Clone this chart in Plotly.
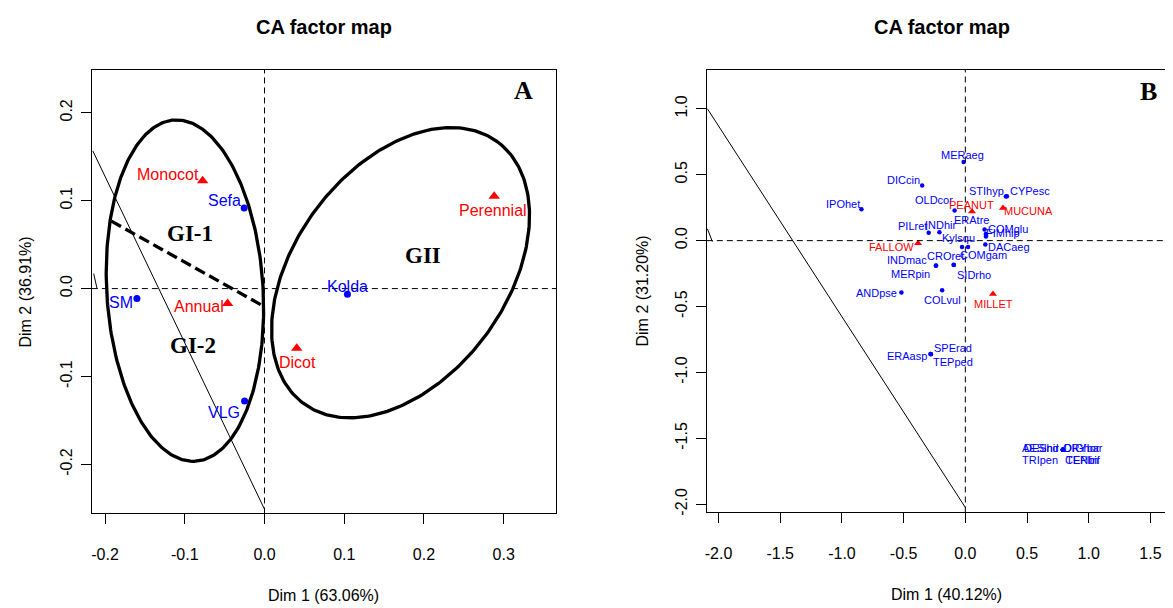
import numpy as np
import plotly.graph_objects as go

# The page body has an 8px default margin; the figure is sized/placed to compensate.
OFF = 8
W, H = 1173 - OFF, 608 - OFF

# ---------------- Panel A data ----------------
a_site_names = ["Sefa", "SM", "Kolda", "VLG"]
a_site_x = [-0.0255, -0.160, 0.104, -0.025]
a_site_y = [0.0917, -0.0113, -0.0064, -0.128]

a_type_names = ["Monocot", "Annual", "Dicot", "Perennial"]
a_type_x = [-0.0776, -0.0463, 0.0404, 0.288]
a_type_y = [0.1227, -0.017, -0.068, 0.105]

a_xticks = [-0.2, -0.1, 0.0, 0.1, 0.2, 0.3]
a_xticklabels = ["-0.2", "-0.1", "0.0", "0.1", "0.2", "0.3"]
a_yticks = [-0.2, -0.1, 0.0, 0.1, 0.2]
a_yticklabels = ["-0.2", "-0.1", "0.0", "0.1", "0.2"]

# ---------------- Panel B data ----------------
b_sp_names = ["MERaeg", "DICcin", "IPOhet", "OLDcor", "STIhyp", "CYPesc", "ERAtre",
              "COMglu", "FIMhip", "PILret", "INDhir", "Kylsqu", "COMgam", "DACaeg",
              "CROret", "SIDrho", "INDmac", "MERpin", "ANDpse", "COLvul", "ERAasp",
              "SPErad", "TEPped", "AESind", "DEShir", "ORYbar", "DIGhor", "TRIpen",
              "CENbif", "TEPlin"]
b_sp_x = [-0.014, -0.350, -0.842, -0.087, 0.328, 0.337, 0.156,
          0.166, 0.167, -0.297, -0.210, -0.027, 0.022, 0.162,
          -0.095, -0.093, -0.237, -0.239, -0.518, -0.188, -0.283,
          -0.279, -0.279, 0.790, 0.790, 0.791, 0.791, 0.790,
          0.791, 0.790]
b_sp_y = [0.597, 0.419, 0.238, 0.229, 0.334, 0.336, 0.085,
          0.051, 0.032, 0.059, 0.064, -0.049, -0.049, -0.029,
          -0.183, -0.185, -0.188, -0.190, -0.394, -0.377, -0.860,
          -0.860, -0.862, -1.586, -1.586, -1.586, -1.586, -1.587,
          -1.587, -1.586]

b_trt_names = ["FALLOW", "PEANUT", "MUCUNA", "MILLET"]
b_trt_x = [-0.383, 0.054, 0.305, 0.224]
b_trt_y = [-0.019, 0.220, 0.248, -0.405]

b_xticks = [-2.0, -1.5, -1.0, -0.5, 0.0, 0.5, 1.0, 1.5]
b_xticklabels = ["-2.0", "-1.5", "-1.0", "-0.5", "0.0", "0.5", "1.0", "1.5"]
b_yticks = [-2.0, -1.5, -1.0, -0.5, 0.0, 0.5, 1.0]
b_yticklabels = ["-2.0", "-1.5", "-1.0", "-0.5", "0.0", "0.5", "1.0"]

# ---------------- layout geometry (page pixels) ----------------
A_L, A_R, A_T, A_B = 90, 555, 70, 516
B_L, B_R, B_T, B_B = 706, 1173, 70, 515
A_XR = [-0.2165, 0.3656]
A_YR = [-0.2558, 0.2490]
B_XR = [-2.095, 1.6828]
B_YR = [-2.062, 1.2966]

sxA = (A_R - A_L) / (A_XR[1] - A_XR[0])
syA = (A_B - A_T) / (A_YR[1] - A_YR[0])


def px(xp):
    return (xp - OFF) / W


def py(yp):
    return 1 - (yp - OFF) / H


# label offsets (screen px, dy positive = down)
a_off = {"Monocot": (-34.4, -6), "Sefa": (-20, -7.3), "SM": (-16.3, 4), "Annual": (-28.2, 3.3),
         "Kolda": (0, -8), "Dicot": (0.8, 14), "Perennial": (-0.8, 14.4), "VLG": (-20.7, 11.7)}
b_off = {"MERaeg": (-1, -7), "DICcin": (-19, -5.3), "IPOhet": (-18.3, -5.6), "OLDcor": (-21, -10.8),
         "STIhyp": (-19.8, -5.5), "CYPesc": (22.6, -5.6), "ERAtre": (-13.3, -9.5),
         "COMglu": (22.5, -5), "FIMhip": (17.3, -3.5), "PILret": (-16.3, -6.7), "INDhir": (2, -7.3),
         "Kylsqu": (-3.4, -9), "COMgam": (15.6, 8.4), "DACaeg": (24, 3), "CROret": (-8.3, -8.3),
         "SIDrho": (19.8, 9.7), "INDmac": (-29, -5), "MERpin": (-25.5, 8), "ANDpse": (-25, 0.3),
         "COLvul": (0, 10), "ERAasp": (-23.3, 1.6), "SPErad": (22.2, -5.7), "TEPped": (22.2, 7.7),
         "AESind": (-22.7, -1.3), "DEShir": (-21.2, -1.3), "ORYbar": (20.3, -1.3), "DIGhor": (18.8, -1.3),
         "TRIpen": (-22.7, 10), "CENbif": (20.3, 10), "TEPlin": (19, 10),
         "FALLOW": (-27, 4), "PEANUT": (-0.7, -6.7), "MUCUNA": (25.6, 3.3), "MILLET": (0.3, 9.5)}

BLUE = "#0000FF"
RED = "#FF0000"
SANS = "Liberation Sans, Arial, sans-serif"
SERIF = "Liberation Serif, Times New Roman, serif"

fig = go.Figure()


def ellipse(cx, cy, a_px, b_px, ang_deg, n=300):
    t = np.linspace(0, 2 * np.pi, n)
    ang = np.deg2rad(ang_deg)
    ux = a_px * np.cos(t) * np.cos(ang) - b_px * np.sin(t) * np.sin(ang)
    uy = a_px * np.cos(t) * np.sin(ang) + b_px * np.sin(t) * np.cos(ang)
    return cx + ux / sxA, cy + uy / syA


# ellipses (group outlines) in panel A
for (cx, cy, a, b, ang) in [(-0.0998, -0.0023, 171.8, 78.3, -86.5),
                            (0.1706, 0.0181, 163.5, 106.0, 53.6)]:
    ex, ey = ellipse(cx, cy, a, b, ang)
    fig.add_trace(go.Scatter(x=ex, y=ey, mode="lines", line=dict(color="black", width=3.3),
                             hoverinfo="skip", showlegend=False, xaxis="x", yaxis="y"))

# thick dashed separator
fig.add_trace(go.Scatter(x=[-0.192, -0.0034], y=[0.0767, -0.0189], mode="lines",
                         line=dict(color="black", width=3.3, dash="11px,5px"),
                         showlegend=False, hoverinfo="skip", xaxis="x", yaxis="y"))
# thin lines A
fig.add_trace(go.Scatter(x=[-0.2153, 0.0], y=[0.1566, -0.251], mode="lines",
                         line=dict(color="black", width=1), showlegend=False, hoverinfo="skip",
                         xaxis="x", yaxis="y"))
fig.add_trace(go.Scatter(x=[-0.2142, -0.2100], y=[0.017, 0.0], mode="lines",
                         line=dict(color="black", width=1), showlegend=False, hoverinfo="skip",
                         xaxis="x", yaxis="y"))
# thin lines B
fig.add_trace(go.Scatter(x=[-2.09, 0.0], y=[1.0, -2.024], mode="lines",
                         line=dict(color="black", width=1), showlegend=False, hoverinfo="skip",
                         xaxis="x2", yaxis="y2"))
fig.add_trace(go.Scatter(x=[-2.09, -2.05], y=[0.089, -0.007], mode="lines",
                         line=dict(color="black", width=1), showlegend=False, hoverinfo="skip",
                         xaxis="x2", yaxis="y2"))

# points A
fig.add_trace(go.Scatter(x=a_site_x, y=a_site_y, mode="markers",
                         marker=dict(color=BLUE, size=7, symbol="circle"),
                         showlegend=False, xaxis="x", yaxis="y"))
fig.add_trace(go.Scatter(x=a_type_x, y=a_type_y, mode="markers",
                         marker=dict(color=RED, size=10, symbol="triangle-up"),
                         showlegend=False, xaxis="x", yaxis="y"))
# points B
fig.add_trace(go.Scatter(x=b_sp_x, y=b_sp_y, mode="markers",
                         marker=dict(color=BLUE, size=4.5, symbol="circle"),
                         showlegend=False, xaxis="x2", yaxis="y2"))
fig.add_trace(go.Scatter(x=b_trt_x, y=b_trt_y, mode="markers",
                         marker=dict(color=RED, size=7, symbol="triangle-up"),
                         showlegend=False, xaxis="x2", yaxis="y2"))

ann = []


def lab(name, x, y, off, color, size, xr, yr):
    dx, dy = off[name]
    ann.append(dict(x=x, y=y, xref=xr, yref=yr, text=name, showarrow=False,
                    xanchor="center", yanchor="middle",
                    xshift=dx, yshift=-dy, font=dict(family=SANS, size=size, color=color)))


for n, x, y in zip(a_site_names, a_site_x, a_site_y):
    lab(n, x, y, a_off, BLUE, 16, "x", "y")
for n, x, y in zip(a_type_names, a_type_x, a_type_y):
    lab(n, x, y, a_off, RED, 16, "x", "y")
for n, x, y in zip(b_sp_names, b_sp_x, b_sp_y):
    lab(n, x, y, b_off, BLUE, 11, "x2", "y2")
for n, x, y in zip(b_trt_names, b_trt_x, b_trt_y):
    lab(n, x, y, b_off, RED, 11, "x2", "y2")

# group labels
for txt, gx, gy in [("GI-1", -0.093, 0.0623), ("GII", 0.199, 0.0377), ("GI-2", -0.0897, -0.0649)]:
    ann.append(dict(x=gx, y=gy, xref="x", yref="y", text="<b>%s</b>" % txt, showarrow=False,
                    xanchor="center", yanchor="middle",
                    font=dict(family=SERIF, size=23, color="black")))

# panel letters
for txt, xp, yp in [("A", 522.3, 90.7), ("B", 1148.3, 91.7)]:
    ann.append(dict(x=px(xp), y=py(yp), xref="paper", yref="paper", text="<b>%s</b>" % txt,
                    xanchor="center", yanchor="middle",
                    showarrow=False, font=dict(family=SERIF, size=26, color="black")))

# titles
for txt, xp, yp in [("CA factor map", 322.5, 27), ("CA factor map", 942, 27)]:
    ann.append(dict(x=px(xp), y=py(yp), xref="paper", yref="paper", text="<b>%s</b>" % txt,
                    xanchor="center", yanchor="middle",
                    showarrow=False, font=dict(family=SANS, size=20, color="black")))
# axis titles
for txt, xp, yp, rot in [("Dim 1 (63.06%)", 322.5, 598, 0), ("Dim 1 (40.12%)", 946, 597, 0),
                         ("Dim 2 (36.91%)", 24, 293, -90), ("Dim 2 (31.20%)", 642, 292, -90)]:
    ann.append(dict(x=px(xp), y=py(yp), xref="paper", yref="paper", text=txt, textangle=rot,
                    xanchor="center", yanchor="middle",
                    showarrow=False, font=dict(family=SANS, size=16, color="black")))

shapes = []
dash_line = dict(color="black", width=1, dash="6px,4px")
shapes.append(dict(type="line", xref="x", yref="y domain", x0=0, x1=0, y0=0, y1=1, line=dash_line))
shapes.append(dict(type="line", xref="x domain", yref="y", x0=0, x1=1, y0=0, y1=0, line=dash_line))
shapes.append(dict(type="line", xref="x2", yref="y2 domain", x0=0, x1=0, y0=0, y1=1, line=dash_line))
shapes.append(dict(type="line", xref="x2 domain", yref="y2", x0=0, x1=1, y0=0, y1=0, line=dash_line))

axis_common = dict(showgrid=False, zeroline=False, showline=True, linecolor="black", linewidth=1,
                   ticks="outside", ticklen=10, tickcolor="black", tickwidth=1,
                   tickfont=dict(family=SANS, size=16, color="black"), fixedrange=True)

fig.update_layout(
    width=W, height=H, margin=dict(l=0, r=0, t=0, b=0),
    paper_bgcolor="white", plot_bgcolor="white", showlegend=False,
    xaxis=dict(domain=[px(A_L), px(A_R)], range=A_XR, tickvals=a_xticks, ticktext=a_xticklabels,
               mirror=True, anchor="y", ticklabelstandoff=16, **axis_common),
    yaxis=dict(domain=[py(A_B), py(A_T)], range=A_YR, tickvals=a_yticks, ticktext=a_yticklabels,
               mirror=True, anchor="x", tickangle=-90, ticklabelstandoff=2, **axis_common),
    xaxis2=dict(domain=[px(B_L), min(1.0, px(B_R))], range=B_XR, tickvals=b_xticks, ticktext=b_xticklabels,
                mirror=True, anchor="y2", ticklabelstandoff=16, **axis_common),
    yaxis2=dict(domain=[py(B_B), py(B_T)], range=B_YR, tickvals=b_yticks, ticktext=b_yticklabels,
                mirror=False, anchor="x2", tickangle=-90, ticklabelstandoff=2, **axis_common),
    annotations=ann, shapes=shapes,
)

fig.write_html("out.html")
